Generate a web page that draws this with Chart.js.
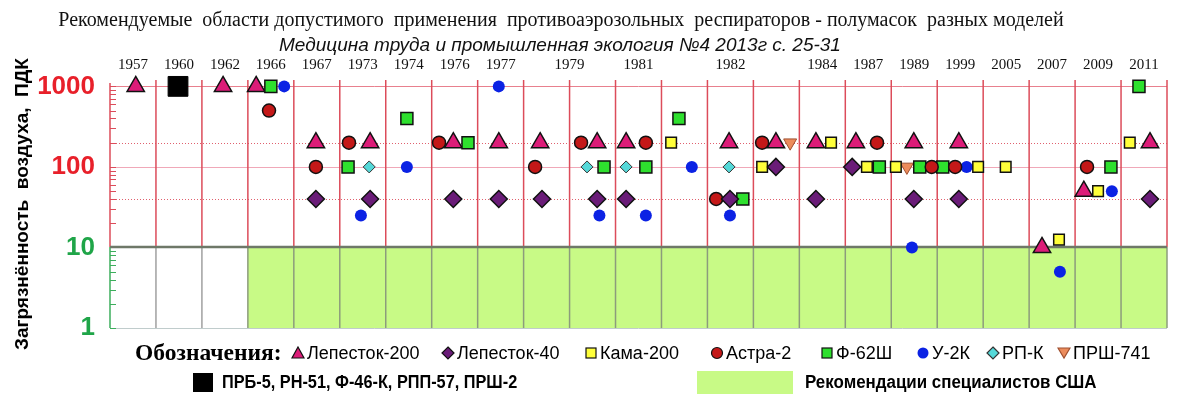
<!DOCTYPE html>
<html><head><meta charset="utf-8">
<script src="https://cdn.jsdelivr.net/npm/chart.js@4.4.1/dist/chart.umd.min.js"></script>
<style>
html,body{margin:0;padding:0;background:#fff;}
#wrap{position:relative;width:1200px;height:397px;overflow:hidden;background:#fff;}
#c{position:absolute;left:0;top:0;}
.t{position:absolute;white-space:pre;color:#111;line-height:24px;}
#t1{left:0;width:1122px;text-align:center;top:8px;font:20px 'Liberation Serif',serif;}
#t2{left:0;width:1120px;text-align:center;top:34px;font:italic 19px 'Liberation Sans',Arial,sans-serif;}
.lg{position:absolute;display:flex;align-items:center;white-space:pre;color:#000;}
.lg svg{display:block;}
.r1{font:18px 'Liberation Sans',Arial,sans-serif;height:24px;top:341px;}
.r2{font:bold 18px 'Liberation Sans',Arial,sans-serif;height:24px;top:370px;}
.r2 span{display:inline-block;transform-origin:0 50%;}
#lgt{position:absolute;left:135px;top:338px;font:bold 23.5px 'Liberation Serif',serif;white-space:pre;line-height:28px;}
</style></head><body>
<div id="wrap">
<canvas id="c" width="1200" height="397"></canvas>
<div class="t" id="t1">Рекомендуемые  области допустимого  применения  противоаэрозольных  респираторов - полумасок  разных моделей</div>
<div class="t" id="t2">Медицина труда и промышленная экология №4 2013г с. 25-31</div>
<div id="lgt">Обозначения:</div>
</div>
<script>
// ---------- data ----------
const years = ['1957','1960','1962','1966','1967','1973','1974','1976','1977','1979','1981','1982','1984','1987','1989','1999','2005','2007','2009','2011'];
const yearSpans = [1,1,1,1,1,1,1,1,1,2,1,3,1,1,1,1,1,1,1,1];
const yMainTicks = [1,10,100,1000];
const ySmallTicks = [40,200];
const refLinesSolid = [1000,100];
const refLinesDotted = [200,40];
const usZoneCols = [3,23];
const usZoneValues = [1,10];
const yTitle = 'Загрязнённость  воздуха,  ПДК';

const lepestok200 = [[0.56,1000],[2.46,1000],[3.18,1000],[4.48,200],[5.66,200],[7.47,200],[8.46,200],[9.36,200],[10.60,200],[11.23,200],[13.47,200],[14.49,200],[15.36,200],[16.23,200],[17.49,200],[18.47,200],[20.28,10],[21.19,50],[22.63,200]];
const lepestok40 = [[4.48,40],[5.66,40],[7.47,40],[8.46,40],[9.40,40],[10.60,40],[11.23,40],[13.49,40],[14.49,100],[15.36,40],[16.15,100],[17.49,40],[18.47,40],[22.63,40]];
const kama200 = [[12.21,200],[14.19,100],[15.69,200],[16.47,100],[17.10,100],[18.89,100],[19.49,100],[20.65,12.5],[21.50,50],[22.19,200]];
const astra2 = [[3.46,500],[4.48,100],[5.20,200],[7.16,200],[9.25,100],[10.25,200],[11.66,200],[13.19,40],[14.19,200],[16.69,200],[17.88,100],[18.39,100],[21.26,100]];
const f62sh = [[3.50,1000],[5.18,100],[6.46,400],[7.79,200],[10.75,100],[11.66,100],[12.38,400],[13.77,40],[16.74,100],[17.62,100],[18.12,100],[21.78,100],[22.39,1000]];
const u2k = [[3.79,1000],[5.46,25],[6.46,100],[8.46,1000],[10.65,25],[11.66,25],[12.66,100],[13.49,25],[17.45,10],[18.64,100],[20.67,5],[21.80,50]];
const rpk = [[5.64,100],[10.38,100],[11.23,100],[13.47,100]];
const prsh741 = [[14.80,200],[17.34,100]];
const otherOld = [[1.48,1000]];

const nCols = yearSpans.reduce((a,b)=>a+b,0);
const yearCenters = [];
{ let s = 0; yearSpans.forEach(w => { yearCenters.push(s + w/2); s += w; }); }
const pts = arr => arr.map(p => ({x:p[0], y:p[1]}));

const datasets = [
  {label:'ПРБ-5, РН-51, Ф-46-К, РПП-57, ПРШ-2', data:pts(otherOld), pointStyle:'rect', pointRadius:14, backgroundColor:'#000', borderColor:'#000', borderWidth:1},
  {label:'Лепесток-40', data:pts(lepestok40), pointStyle:'rectRot', pointRadius:8.5, backgroundColor:'#6a1c78', borderColor:'#111', borderWidth:1.5},
  {label:'Кама-200', data:pts(kama200), pointStyle:'rect', pointRadius:7.5, backgroundColor:'#ffff3a', borderColor:'#111', borderWidth:1.5},
  {label:'Астра-2', data:pts(astra2), pointStyle:'circle', pointRadius:6.5, backgroundColor:'#c41818', borderColor:'#111', borderWidth:1.5},
  {label:'Ф-62Ш', data:pts(f62sh), pointStyle:'rect', pointRadius:8.5, backgroundColor:'#2ee02e', borderColor:'#111', borderWidth:1.5},
  {label:'У-2К', data:pts(u2k), pointStyle:'circle', pointRadius:6, backgroundColor:'#0b22e4', borderColor:'#0b22e4', borderWidth:0},
  {label:'РП-К', data:pts(rpk), pointStyle:'rectRot', pointRadius:6, backgroundColor:'#55d8d8', borderColor:'#333', borderWidth:1},
  {label:'ПРШ-741', data:pts(prsh741), pointStyle:'triangle', rotation:180, pointRadius:7.5, backgroundColor:'#ec8c5c', borderColor:'#a05030', borderWidth:1},
  {label:'Лепесток-200', data:pts(lepestok200), pointStyle:'triangle', pointRadius:10, backgroundColor:'#dc1c78', borderColor:'#111', borderWidth:1.5},
];

const gridPlugin = {
  id:'gridPlugin',
  beforeDatasetsDraw(chart){
    const {ctx, chartArea:a} = chart;
    const x = chart.scales.x, y = chart.scales.y;
    const y10 = Math.round(y.getPixelForValue(10));
    const yb = Math.round(y.getPixelForValue(1));
    const yt = a.top;
    const xl = x.getPixelForValue(0), xr = x.getPixelForValue(nCols);
    const line = (x0,y0,x1,y1) => { ctx.beginPath(); ctx.moveTo(x0,y0); ctx.lineTo(x1,y1); ctx.stroke(); };
    ctx.save();
    const zx0 = x.getPixelForValue(usZoneCols[0]), zx1 = x.getPixelForValue(usZoneCols[1]);
    const zy0 = y.getPixelForValue(usZoneValues[1]), zy1 = y.getPixelForValue(usZoneValues[0]);
    ctx.fillStyle = '#c8fa86';
    ctx.fillRect(zx0, zy0, zx1-zx0, zy1-zy0);
    ctx.strokeStyle = '#c0cccc'; ctx.lineWidth = 1;
    line(xl, yb+0.5, xr, yb+0.5);
    ctx.setLineDash([1,2]); ctx.strokeStyle = '#e0606e'; ctx.lineWidth = 1;
    refLinesDotted.forEach(v => { const p = Math.round(y.getPixelForValue(v))+0.5; line(xl, p, xr, p); });
    ctx.setLineDash([]);
    refLinesSolid.forEach(v => { const p = Math.round(y.getPixelForValue(v))+0.5; ctx.strokeStyle = v===1000?'#e8808e':'#f0a8b8'; line(xl, p, xr, p); });
    ctx.lineWidth = 1.5;
    for (let i=1;i<=nCols;i++){
      const px = x.getPixelForValue(i);
      ctx.strokeStyle = '#dc4c5a'; line(px, yt, px, y10);
      ctx.strokeStyle = (i>=usZoneCols[0] && i<=usZoneCols[1]) ? '#8c9c7c' : '#a0a0a0';
      line(px, y10, px, yb);
    }
    ctx.strokeStyle = '#dc4c5a'; line(xl, yt+3, xl, y10);
    ctx.strokeStyle = '#3cae5c'; line(xl, y10, xl, yb);
    ctx.lineWidth = 1;
    for (let d=1; d<=1000; d*=10){
      for (let k=1;k<=9;k++){
        const v = k*d; if (v>1000) break;
        const p = Math.round(y.getPixelForValue(v))+0.5;
        ctx.strokeStyle = v>10 ? '#dc4c5a' : '#3cae5c';
        line(xl, p, xl+6, p);
      }
    }
    ctx.strokeStyle = '#6e7868'; ctx.lineWidth = 2.5;
    line(xl, y10, xr, y10);
    ctx.restore();
  }
};

const chart = new Chart(document.getElementById('c'), {
  type:'scatter',
  data:{datasets: datasets.map(d => Object.assign({clip:false, pointHoverRadius:d.pointRadius}, d))},
  options:{
    responsive:false, animation:false, events:[],
    layout:{padding:{top:55,right:33,bottom:69,left:0}},
    plugins:{legend:{display:false}, tooltip:{enabled:false}},
    scales:{
      x:{type:'linear', position:'top', min:0, max:nCols,
        grid:{display:false, drawTicks:false}, border:{display:false},
        afterBuildTicks: s => { s.ticks = yearCenters.map(v => ({value:v})); },
        afterFit: s => { s.height = 25; },
        ticks:{autoSkip:false, maxRotation:0, padding:6, color:'#111',
          font:{family:"'Liberation Serif', serif", size:15},
          callback:(v,i) => years[i]}
      },
      y:{type:'logarithmic', position:'left', min:1, max:1200, weight:1,
        grid:{display:false, drawTicks:false}, border:{display:false},
        afterBuildTicks: s => { s.ticks = yMainTicks.map(v => ({value:v})); },
        afterFit: s => { s.width = 110; },
        ticks:{autoSkip:false, padding:15,
          font:{family:"'Liberation Sans', Arial, sans-serif", size:26, weight:'bold'},
          color: c => c.tick && c.tick.value >= 40 ? '#e8202a' : '#1fa548',
          callback: v => String(v)},
        title:{display:true, text:yTitle, color:'#000',
          font:{family:"'Liberation Sans', Arial, sans-serif", size:19, weight:'bold'},
          padding:{top:11,bottom:0}}
      },
      yS:{type:'logarithmic', position:'left', min:1, max:1200, weight:0,
        grid:{display:false, drawTicks:false}, border:{display:false},
        afterBuildTicks: s => { s.ticks = ySmallTicks.map(v => ({value:v})); },
        afterFit: s => { s.width = 0; },
        ticks:{autoSkip:false, padding:7, color:'#e8202a',
          font:{family:"'Liberation Sans', Arial, sans-serif", size:18},
          callback: v => String(v)}
      }
    }
  },
  plugins:[gridPlugin]
});

// ---------- HTML legend built from datasets ----------
function markerSVG(d, size){
  const s = size, h = s/2;
  let shape = '';
  const f = d.backgroundColor, st = d.borderWidth ? d.borderColor : 'none', sw = d.borderWidth ? 1.2 : 0;
  if (d.pointStyle === 'triangle' && d.rotation === 180) shape = `<polygon points="1,2 ${s-1},2 ${h},${s-2}" fill="${f}" stroke="${st}" stroke-width="${sw}"/>`;
  else if (d.pointStyle === 'triangle') shape = `<polygon points="${h},1 ${s-1},${s-2} 1,${s-2}" fill="${f}" stroke="${st}" stroke-width="${sw}"/>`;
  else if (d.pointStyle === 'rectRot') shape = `<polygon points="${h},1 ${s-1},${h} ${h},${s-1} 1,${h}" fill="${f}" stroke="${st}" stroke-width="${sw}"/>`;
  else if (d.pointStyle === 'rect') shape = `<rect x="2" y="2" width="${s-4}" height="${s-4}" fill="${f}" stroke="${st}" stroke-width="${sw}"/>`;
  else shape = `<circle cx="${h}" cy="${h}" r="${h-1.5}" fill="${f}" stroke="${st}" stroke-width="${sw}"/>`;
  return `<svg width="${s}" height="${s}" viewBox="0 0 ${s} ${s}">${shape}</svg>`;
}
const legendRow1 = ['Лепесток-200','Лепесток-40','Кама-200','Астра-2','Ф-62Ш','У-2К','РП-К','ПРШ-741'];
const legendRow1X = [291,441,584,710,820,916,986,1057];
const wrap = document.getElementById('wrap');
legendRow1.forEach((name,i) => {
  const d = datasets.find(ds => ds.label === name);
  const el = document.createElement('div');
  el.className = 'lg r1';
  el.style.left = legendRow1X[i] + 'px';
  el.innerHTML = markerSVG(d, 14) + `<span style="margin-left:2px">${d.label}</span>`;
  wrap.appendChild(el);
});
{
  const d = datasets[0];
  const el = document.createElement('div');
  el.className = 'lg r2'; el.style.left = '193px';
  el.innerHTML = `<div style="width:20px;height:19px;background:#000;margin-right:9px"></div><span style="transform:scaleX(0.905)">${d.label}</span>`;
  wrap.appendChild(el);
  const el2 = document.createElement('div');
  el2.className = 'lg r2'; el2.style.left = '697px';
  el2.innerHTML = `<div style="width:96px;height:23px;background:#c8fa86;margin-right:12px"></div><span style="transform:scaleX(0.94)">Рекомендации специалистов США</span>`;
  wrap.appendChild(el2);
}
</script>
</body></html>
